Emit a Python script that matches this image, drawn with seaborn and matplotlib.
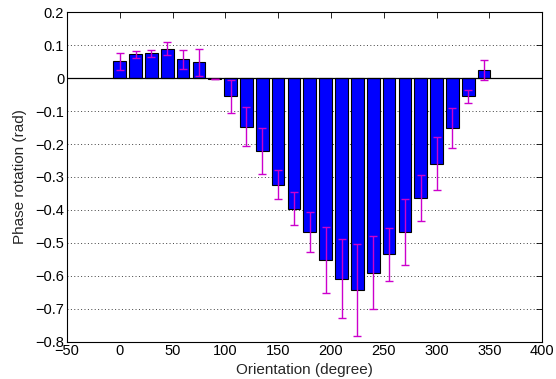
import matplotlib
matplotlib.use("Agg")
import matplotlib.pyplot as plt
import seaborn as sns
import pandas as pd

orientation = [0, 15, 30, 45, 60, 75, 90, 105, 120, 135, 150, 165,
               180, 195, 210, 225, 240, 255, 270, 285, 300, 315, 330, 345]
phase = [0.051, 0.072, 0.075, 0.090, 0.057, 0.048, -0.002, -0.055,
         -0.147, -0.222, -0.324, -0.397, -0.467, -0.553, -0.609, -0.642,
         -0.590, -0.535, -0.467, -0.365, -0.260, -0.152, -0.055, 0.025]
err = [0.025, 0.010, 0.010, 0.020, 0.030, 0.040, 0.001, 0.050,
       0.060, 0.070, 0.044, 0.050, 0.060, 0.100, 0.120, 0.140,
       0.110, 0.080, 0.100, 0.070, 0.080, 0.060, 0.020, 0.030]

xticks = [-50, 0, 50, 100, 150, 200, 250, 300, 350, 400]
xticklabels = ["\u221250", "0", "50", "100", "150", "200", "250", "300", "350", "400"]
yticks = [0.2, 0.1, 0.0, -0.1, -0.2, -0.3, -0.4, -0.5, -0.6, -0.7, -0.8]
yticklabels = ["0.2", "0.1", "0", "\u22120.1", "\u22120.2", "\u22120.3", "\u22120.4",
               "\u22120.5", "\u22120.6", "\u22120.7", "\u22120.8"]

sns.set_style("white")
plt.rcParams['font.family'] = ['Liberation Sans', 'DejaVu Sans']
plt.rcParams['font.size'] = 10.5

df = pd.DataFrame({"Orientation": orientation, "Phase": phase})

fig = plt.figure(figsize=(5.56, 3.79), dpi=100)
ax = fig.add_axes([0.1205, 0.0985, 0.8545, 0.8690])

ax.yaxis.grid(True, linestyle=(0, (1, 2.5)), color='0.25', linewidth=0.7)
ax.set_axisbelow(True)

sns.barplot(data=df, x="Orientation", y="Phase", native_scale=True, width=0.8,
            color=(0, 0, 1), saturation=1, edgecolor='black', linewidth=0.8,
            errorbar=None, ax=ax, zorder=2)
ax.axhline(0, color='black', linewidth=0.9, zorder=3)
ax.errorbar(orientation, phase, yerr=err, fmt='none', ecolor=(0.8, 0, 0.8),
            elinewidth=1.0, capsize=3, capthick=1.0, zorder=4)

ax.set_xlim(-50, 400)
ax.set_ylim(-0.8, 0.2)
ax.set_xticks(xticks)
ax.set_xticklabels(xticklabels)
ax.set_yticks(yticks)
ax.set_yticklabels(yticklabels)
ax.tick_params(direction='in', top=True, right=True, length=4, width=0.6,
               labelsize=10.5, pad=2, colors='black')
for s in ax.spines.values():
    s.set_visible(True)
    s.set_color('black')
    s.set_linewidth(0.8)
ax.set_xlabel("Orientation (degree)", fontsize=11, labelpad=3)
ax.set_ylabel("Phase rotation (rad)", fontsize=11, labelpad=6)

fig.savefig("out.png", dpi=100)
